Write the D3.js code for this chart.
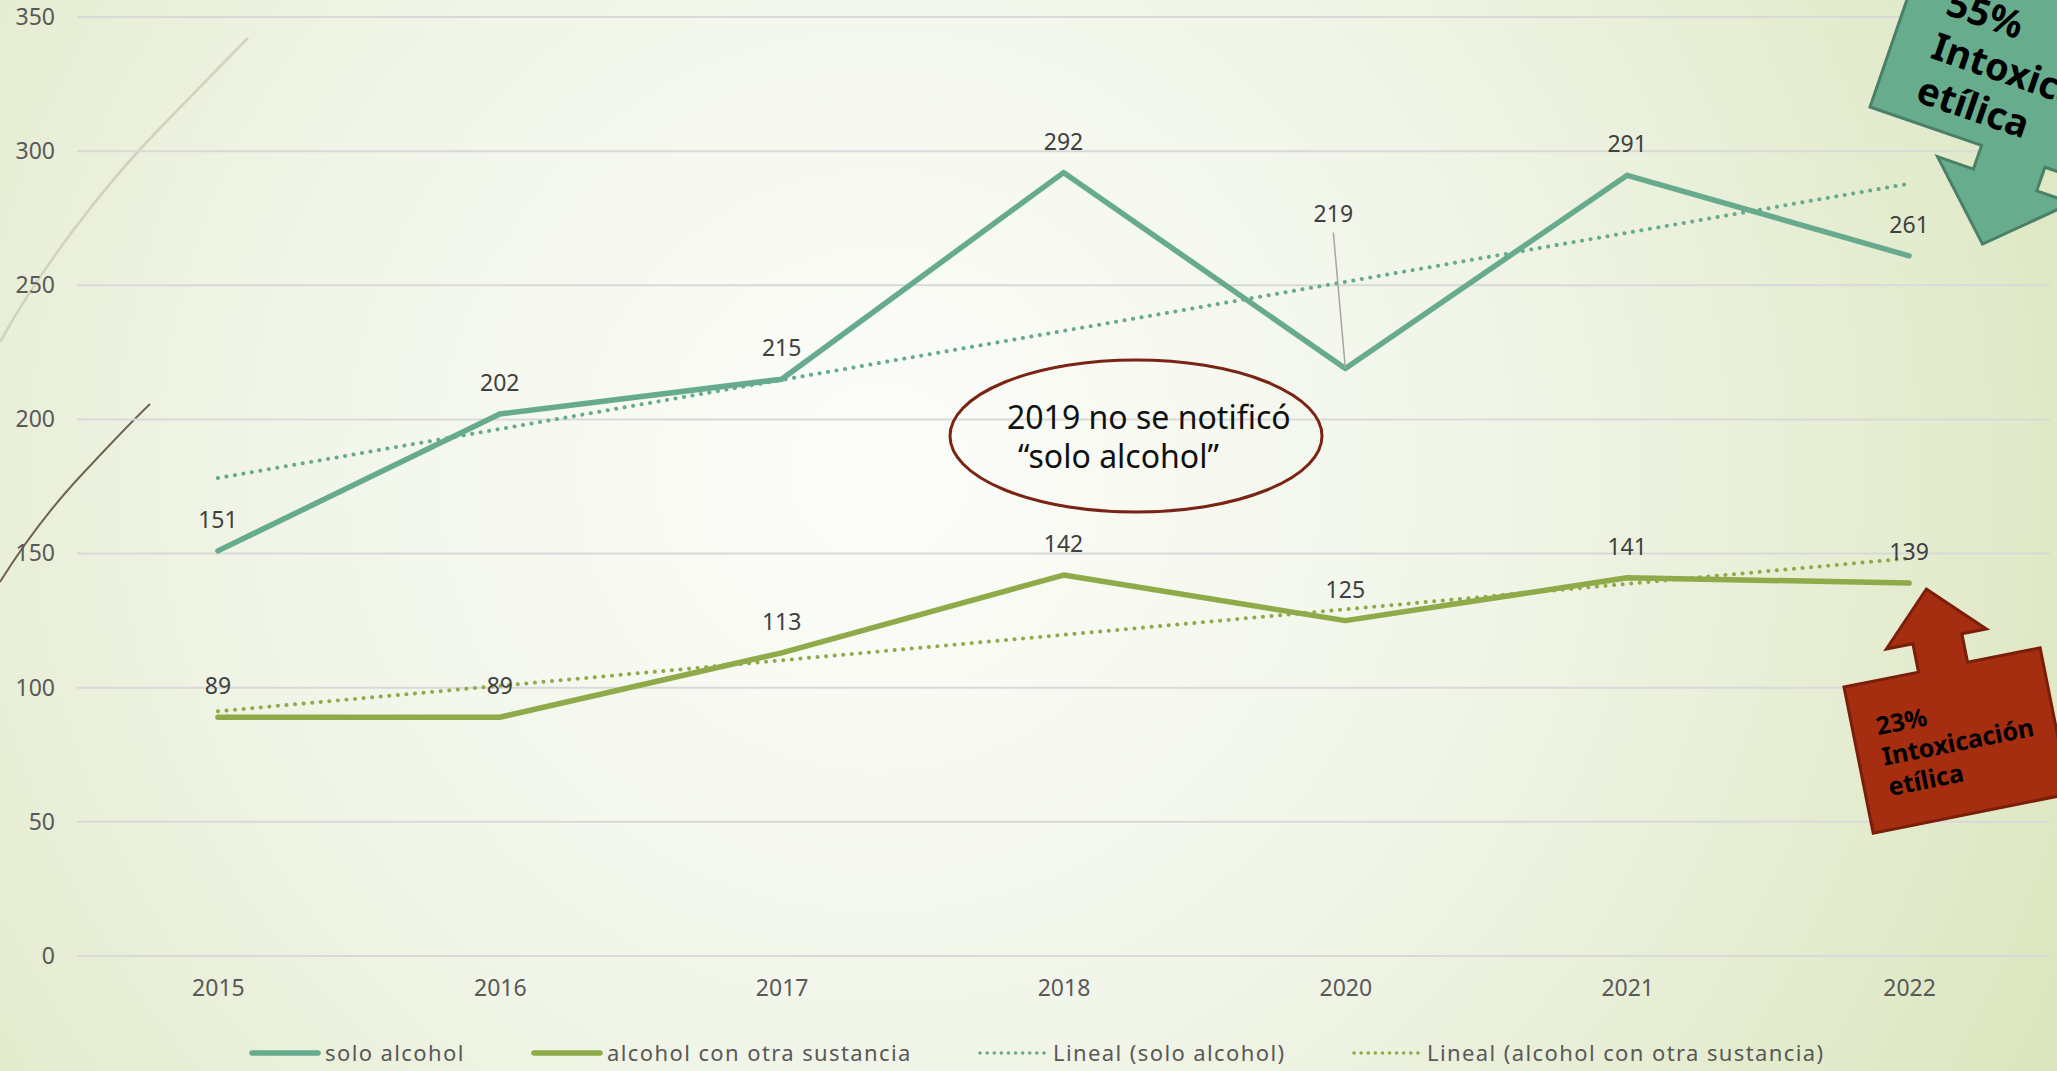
<!DOCTYPE html>
<html>
<head>
<meta charset="utf-8">
<script src="https://cdn.jsdelivr.net/npm/d3@7/dist/d3.min.js"></script>
<style>
  html, body { margin: 0; padding: 0; overflow: hidden; }
  svg { display: block; }
  text { font-family: "Noto Sans", "Open Sans", sans-serif; }
</style>
</head>
<body>
<script>
// ---- data ----
const categories = ["2015", "2016", "2017", "2018", "2020", "2021", "2022"];
const soloAlcohol = [151, 202, 215, 292, 219, 291, 261];
const alcoholOtra = [89, 89, 113, 142, 125, 141, 139];
const yTicks = [0, 50, 100, 150, 200, 250, 300, 350];
const seriesNames = ["solo alcohol", "alcohol con otra sustancia", "Lineal (solo alcohol)", "Lineal (alcohol con otra sustancia)"];
const noteLines = ["2019 no se notificó", "\u201Csolo alcohol\u201D"];
const greenCallout = ["55%", "Intoxicación", "etílica"];
const redCallout = ["23%", "Intoxicación", "etílica"];

const W = 2057, H = 1071;
const teal = "#67ab8e", olive = "#8faa48";

const svg = d3.select("body").append("svg").attr("width", W).attr("height", H);
const defs = svg.append("defs");
const bg = defs.append("radialGradient").attr("id", "bg")
  .attr("gradientUnits", "userSpaceOnUse").attr("cx", 880).attr("cy", 470).attr("r", 1350);
bg.append("stop").attr("offset", 0).attr("stop-color", "#fcfdfa");
bg.append("stop").attr("offset", 0.45).attr("stop-color", "#f1f5e8");
bg.append("stop").attr("offset", 0.8).attr("stop-color", "#e3ebcd");
bg.append("stop").attr("offset", 1).attr("stop-color", "#d9e5ba");
svg.append("rect").attr("width", W).attr("height", H).attr("fill", "url(#bg)");

// decorative curves on the left
svg.append("path").attr("d", "M0,342 C40,270 100,190 160,128 C190,98 220,66 248,38")
  .attr("fill", "none").attr("stroke", "#d0d3bd").attr("stroke-width", 2.6);
svg.append("path").attr("d", "M0,582 C20,550 45,515 75,482 C100,455 125,428 150,404")
  .attr("fill", "none").attr("stroke", "#6f6350").attr("stroke-width", 2);

// ---- scales ----
const x = d3.scalePoint().domain(categories).range([77, 2050]).padding(0.5);
const y = d3.scaleLinear().domain([0, 350]).range([956, 17]);

// gridlines
svg.append("g").selectAll("line").data(yTicks).join("line")
  .attr("x1", 77).attr("x2", 2050)
  .attr("y1", d => y(d)).attr("y2", d => y(d))
  .attr("stroke", "#d9d9d9").attr("stroke-width", 2);

// y axis labels
const yAxis = svg.append("g").attr("transform", "translate(55,0)")
  .call(d3.axisLeft(y).tickValues(yTicks).tickSize(0).tickPadding(0));
yAxis.select(".domain").remove();
yAxis.selectAll("text").attr("font-size", 23).attr("fill", "#595959")
  .style("font-family", "'Noto Sans', sans-serif");

// x axis labels
const xAxis = svg.append("g").attr("transform", "translate(0,980)")
  .call(d3.axisBottom(x).tickSize(0).tickPadding(0));
xAxis.select(".domain").remove();
xAxis.selectAll("text").attr("font-size", 23).attr("fill", "#595959")
  .style("font-family", "'Noto Sans', sans-serif");

// linear trend (least squares, like the Excel "Lineal" trendline)
function trend(vals) {
  const n = vals.length, xs = d3.range(1, n + 1);
  const mx = d3.mean(xs), my = d3.mean(vals);
  const b = d3.sum(xs, (xi, i) => (xi - mx) * (vals[i] - my)) / d3.sum(xs, xi => (xi - mx) ** 2);
  return xs.map(xi => my + b * (xi - mx));
}

const line = d3.line().x((d, i) => x(categories[i])).y(d => y(d));

// trendlines
[[soloAlcohol, teal], [alcoholOtra, olive]].forEach(([vals, col]) => {
  svg.append("path").datum(trend(vals)).attr("d", line)
    .attr("fill", "none").attr("stroke", col).attr("stroke-width", 4)
    .attr("stroke-linecap", "round").attr("stroke-dasharray", "0.1 8.5");
});

// series lines
[[alcoholOtra, olive], [soloAlcohol, teal]].forEach(([vals, col]) => {
  svg.append("path").datum(vals).attr("d", line)
    .attr("fill", "none").attr("stroke", col).attr("stroke-width", 5.5)
    .attr("stroke-linecap", "round").attr("stroke-linejoin", "round");
});

// data labels
function labels(vals, special) {
  vals.forEach((v, i) => {
    let lx = x(categories[i]), ly = y(v) - 23;
    if (special && special.index === i) {
      lx += special.dx; ly = y(v) + special.dy;
      svg.append("line").attr("x1", lx).attr("y1", ly + 10)
        .attr("x2", x(categories[i])).attr("y2", y(v))
        .attr("stroke", "#a6a6a6").attr("stroke-width", 1.5);
    }
    svg.append("text").attr("x", lx).attr("y", ly).attr("text-anchor", "middle")
      .attr("font-size", 23).attr("fill", "#404040").text(v);
  });
}
labels(soloAlcohol, { index: 4, dx: -12, dy: -146 });
labels(alcoholOtra, null);

// annotation ellipse
svg.append("ellipse").attr("cx", 1136).attr("cy", 436).attr("rx", 186).attr("ry", 76)
  .attr("fill", "none").attr("stroke", "#7a2415").attr("stroke-width", 3);
svg.append("text").attr("x", 1007).attr("y", 429).attr("font-size", 32).attr("fill", "#111").text(noteLines[0]);
svg.append("text").attr("x", 1018).attr("y", 468).attr("font-size", 32).attr("fill", "#111").text(noteLines[1]);

// green down-arrow callout (rotated)
const g1 = svg.append("g").attr("transform", "translate(1870,107) rotate(19)");
g1.append("path")
  .attr("d", "M0,-220 L302,-220 L302,0 L185,0 L185,25 L222,25 L151,93 L80,25 L118,25 L118,0 L0,0 Z")
  .attr("fill", "#68ac8e").attr("stroke", "#4b8068").attr("stroke-width", 3).attr("stroke-linejoin", "miter");
greenCallout.forEach((t, i) => {
  g1.append("text").attr("x", 40).attr("y", -112 + i * 46).attr("font-size", 38)
    .attr("font-weight", "bold").attr("fill", "#000").text(t);
});

// red up-arrow callout (rotated)
const g2 = svg.append("g").attr("transform", "translate(1844,687) rotate(-11.3)");
g2.append("path")
  .attr("d", "M0,0 L76,0 L76,-29 L49,-29 L100,-80 L151,-29 L126,-29 L126,0 L200,0 L200,149 L0,149 Z")
  .attr("fill", "#a52d10").attr("stroke", "#7a1e0a").attr("stroke-width", 3);
redCallout.forEach((t, i) => {
  g2.append("text").attr("x", 24).attr("y", 54 + i * 31).attr("font-size", 25)
    .attr("font-weight", "bold").attr("fill", "#000").text(t);
});

// legend
const legendItems = [
  { name: seriesNames[0], col: teal, dotted: false, x0: 249 },
  { name: seriesNames[1], col: olive, dotted: false, x0: 531 },
  { name: seriesNames[2], col: teal, dotted: true, x0: 977 },
  { name: seriesNames[3], col: olive, dotted: true, x0: 1351 }
];
const lg = svg.append("g").attr("transform", "translate(0,1053)");
legendItems.forEach(it => {
  lg.append("line").attr("x1", it.x0 + 3).attr("x2", it.x0 + 69).attr("y1", 0).attr("y2", 0)
    .attr("stroke", it.col).attr("stroke-width", it.dotted ? 3.5 : 5.5)
    .attr("stroke-linecap", "round")
    .attr("stroke-dasharray", it.dotted ? "0.1 7" : null);
  lg.append("text").attr("x", it.x0 + 76).attr("y", 8).attr("font-size", 22)
    .attr("letter-spacing", 1.4).attr("fill", "#595959").text(it.name);
});
</script>
</body>
</html>
